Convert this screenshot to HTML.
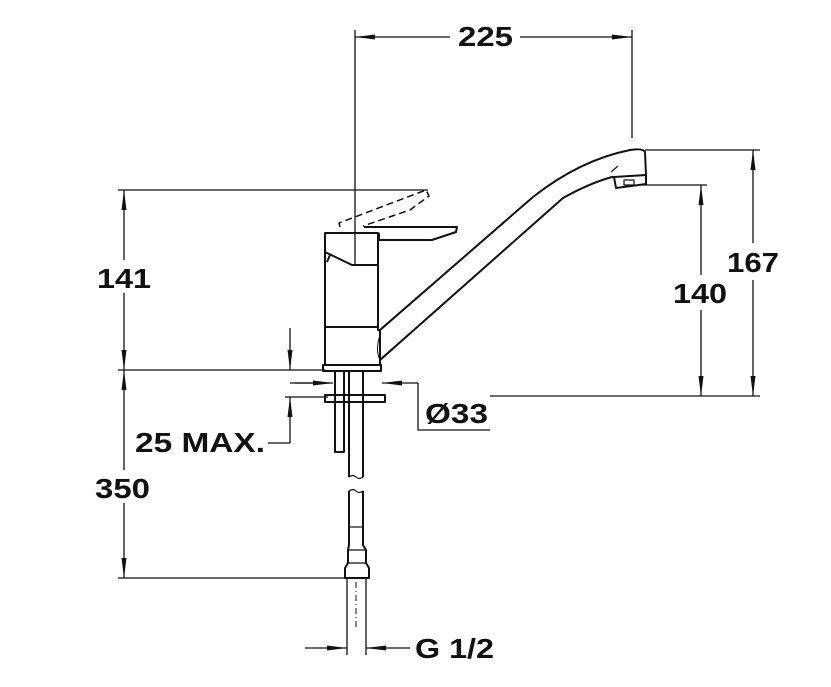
<!DOCTYPE html>
<html><head><meta charset="utf-8"><style>
html,body{margin:0;padding:0;background:#fff;}
svg{display:block;}
text{font-family:"Liberation Sans",Arial,sans-serif;font-weight:bold;font-size:28px;fill:#111;}
</style></head><body>
<svg width="831" height="687" viewBox="0 0 831 687" xmlns="http://www.w3.org/2000/svg">
<defs>
<marker id="b" viewBox="0 0 20 10" refX="20" refY="5" markerWidth="24" markerHeight="10" markerUnits="userSpaceOnUse" orient="auto-start-reverse">
<path d="M0,2.5 L20,5 L0,7.5 z" fill="#111"/></marker>
</defs>
<g stroke="#111" stroke-width="1.3" fill="none">
<line x1="355" y1="30" x2="355" y2="265"/>
<line x1="632" y1="30" x2="632" y2="138"/>
<line x1="645" y1="150" x2="760" y2="150"/>
<line x1="642" y1="185" x2="707" y2="185"/>
<line x1="490" y1="396" x2="760" y2="396"/>
<line x1="118" y1="190" x2="428" y2="190"/>
<line x1="118" y1="370" x2="325" y2="370"/>
<line x1="118" y1="578" x2="345" y2="578"/>
<line x1="290" y1="383" x2="330" y2="383"/>
<line x1="285" y1="397" x2="328" y2="397"/>
<line x1="355" y1="37" x2="450" y2="37" marker-start="url(#b)"/>
<line x1="520" y1="37" x2="632" y2="37" marker-end="url(#b)"/>
<line x1="753" y1="150" x2="753" y2="243" marker-start="url(#b)"/>
<line x1="753" y1="280" x2="753" y2="396" marker-end="url(#b)"/>
<line x1="701" y1="185" x2="701" y2="275" marker-start="url(#b)"/>
<line x1="701" y1="310" x2="701" y2="396" marker-end="url(#b)"/>
<line x1="124" y1="190" x2="124" y2="260" marker-start="url(#b)"/>
<line x1="124" y1="293" x2="124" y2="370" marker-end="url(#b)"/>
<line x1="124" y1="370" x2="124" y2="470" marker-start="url(#b)"/>
<line x1="124" y1="503" x2="124" y2="578" marker-end="url(#b)"/>
<line x1="290" y1="328" x2="290" y2="370" marker-end="url(#b)"/>
<line x1="290" y1="397" x2="290" y2="443" marker-start="url(#b)"/>
<line x1="268" y1="443" x2="290" y2="443"/>
<line x1="295" y1="383" x2="333" y2="383" marker-end="url(#b)"/>
<line x1="382" y1="383" x2="418" y2="383" marker-start="url(#b)"/>
<polyline points="418,383 418,430 490,430"/>
<line x1="305" y1="648" x2="347" y2="648" marker-end="url(#b)"/>
<line x1="366" y1="648" x2="410" y2="648" marker-start="url(#b)"/>
</g>
<g stroke="#111" stroke-width="2" fill="none" stroke-linejoin="round">
<path d="M325,233 L378,233 L378,330 L380,330 L380,365 L325,365 Z"/>
<line x1="325" y1="327" x2="378" y2="327"/>
<path d="M325,233 L325,252 L352,265 L378,265"/>
<path d="M330,255 L327,262"/>
<rect x="323" y="365" width="58" height="6"/>
<path d="M364,227 L457,227 L456,232 L432,240 L379,240 L379,233"/>
<path d="M340,227 L339,223 L426,190 L429,196 L410,210 L363,226" stroke-dasharray="7,4" stroke-width="1.5"/>
<path d="M380,330 L533,197 Q580,160 630,150 Q643,148 645,152 L646,175 L614,177 L612,177 Q590,183 563,198 L380,360"/>
<path d="M614,177 L616,188 L646,184 L646,175"/>
<rect x="624" y="180" width="10" height="5" stroke-width="1.2"/>
<line x1="611" y1="172" x2="618" y2="166" stroke-width="1.2"/>
<path d="M380,335 Q375,350 380,360" stroke-width="1"/>
<rect x="325" y="395" width="60" height="7"/>
<path d="M335,371 L335,452 L344,452 L344,371"/>
<line x1="333" y1="402" x2="346" y2="402"/>
<path d="M349,371 L349,477 M363,371 L363,477"/>
<path d="M349,477 Q353,474 356,477 Q359,480 363,477" stroke-width="1.2"/>
<path d="M349,491 Q353,488 356,491 Q359,494 363,491" stroke-width="1.2"/>
<path d="M349,491 L349,545 L348,550 L348,563 L345,568 L345,578 L369,578 L369,568 L366,563 L366,550 L363,545 L363,491"/>
<line x1="349" y1="527" x2="363" y2="527" stroke-width="1.2"/>
<line x1="348" y1="550" x2="366" y2="550" stroke-width="1.2"/>
<line x1="348" y1="563" x2="366" y2="563" stroke-width="1.2"/>
<path d="M347,578 L347,655 M366,578 L366,655" stroke-width="1.3"/>
<line x1="356" y1="582" x2="356" y2="630" stroke-width="1" stroke-dasharray="6,3,1,3"/>
</g>
<text x="458" y="46" textLength="55" lengthAdjust="spacingAndGlyphs">225</text>
<text x="727" y="272" textLength="52" lengthAdjust="spacingAndGlyphs">167</text>
<text x="673" y="303" textLength="54" lengthAdjust="spacingAndGlyphs">140</text>
<text x="97" y="288" textLength="54" lengthAdjust="spacingAndGlyphs">141</text>
<text x="95" y="498" textLength="55" lengthAdjust="spacingAndGlyphs">350</text>
<text x="135" y="452" textLength="130" lengthAdjust="spacingAndGlyphs">25 MAX.</text>
<text x="425" y="423" textLength="63" lengthAdjust="spacingAndGlyphs">Ø33</text>
<text x="415" y="658" textLength="79" lengthAdjust="spacingAndGlyphs">G 1/2</text>
</svg>
</body></html>
